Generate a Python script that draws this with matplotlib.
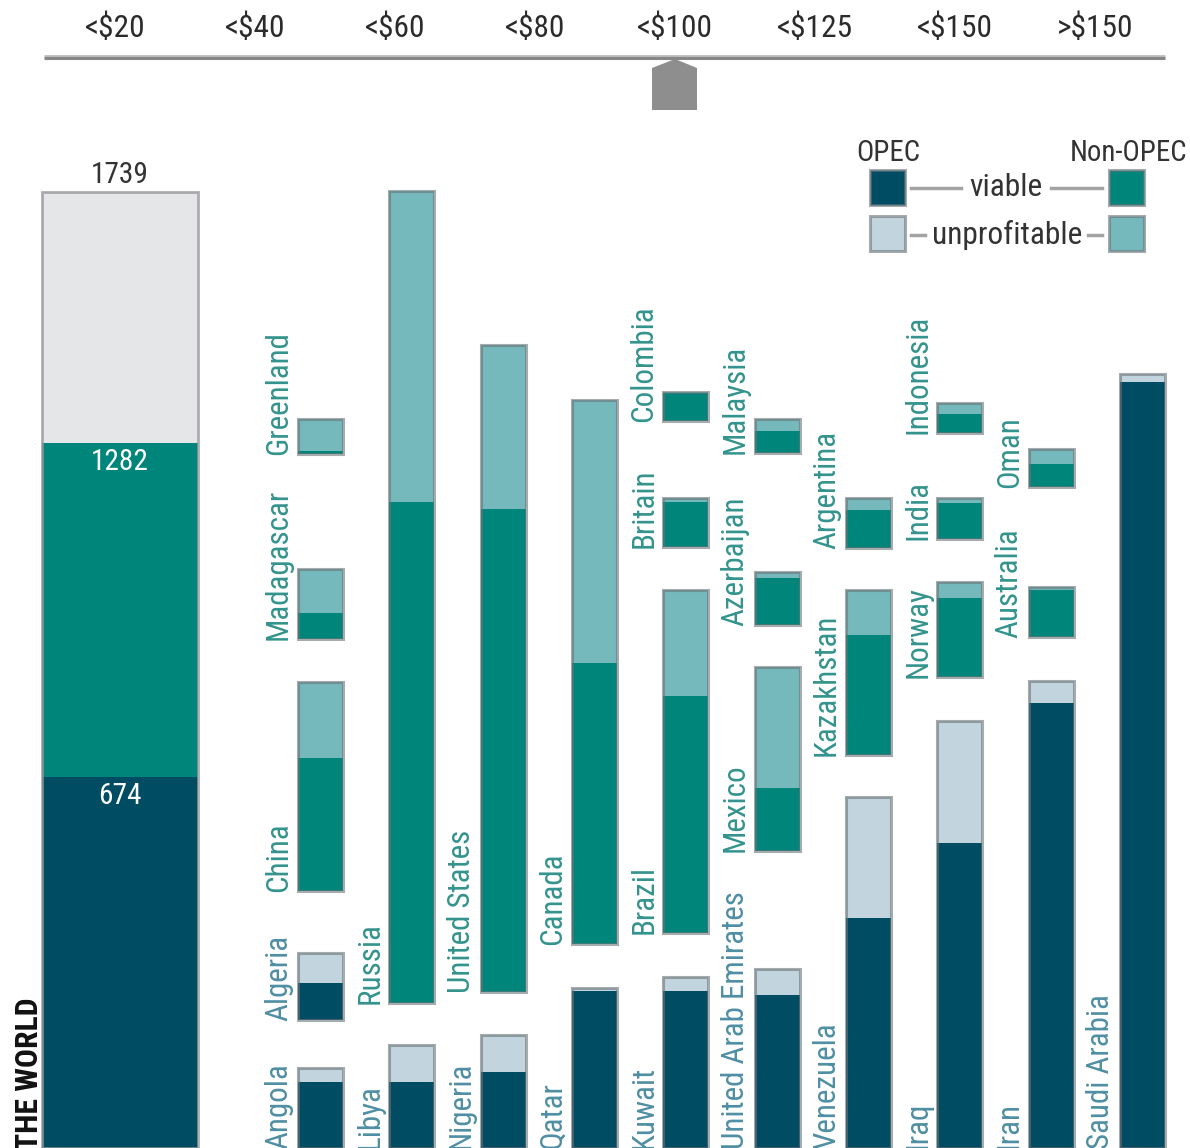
import matplotlib
matplotlib.use("Agg")
import matplotlib.pyplot as plt
from matplotlib.patches import Polygon, Rectangle
from matplotlib import font_manager

# oil reserves by break-even price, billion barrels
price_bands = ["<$20", "<$40", "<$60", "<$80", "<$100", "<$125", "<$150", ">$150"]

world_parts = [674, 608, 457]          # OPEC viable, non-OPEC viable, unprofitable
world_marks = [674, 1282, 1739]

countries = ["Greenland", "Madagascar", "China", "Algeria", "Angola",
             "Russia", "Libya",
             "United States", "Nigeria",
             "Canada", "Qatar",
             "Colombia", "Britain", "Brazil", "Kuwait",
             "Malaysia", "Azerbaijan", "Mexico", "United Arab Emirates",
             "Argentina", "Kazakhstan", "Venezuela",
             "Indonesia", "India", "Norway", "Iraq",
             "Oman", "Australia", "Iran",
             "Saudi Arabia"]
opec = [0, 0, 0, 1, 1,
        0, 1,
        0, 1,
        0, 1,
        0, 0, 0, 1,
        0, 0, 0, 1,
        0, 0, 1,
        0, 0, 0, 1,
        0, 0, 1,
        1]
viable = [5, 48, 242, 67, 120,
          911, 120,
          878, 138,
          511, 285,
          51, 82, 431, 285,
          40, 85, 115, 278,
          69, 218, 418,
          35, 66, 144, 555,
          42, 86, 809,
          1393]
unprofitable = [58, 80, 138, 55, 25,
                565, 67,
                298, 67,
                478, 6,
                2, 7, 193, 26,
                21, 11, 220, 47,
                22, 82, 220,
                20, 9, 29, 221,
                27, 5, 40,
                14]

# layout of the floating bars: column and bottom of each country's bar
column = [1, 1, 1, 1, 1, 2, 2, 3, 3, 4, 4, 5, 5, 5, 5, 6, 6, 6, 6,
          7, 7, 7, 8, 8, 8, 8, 9, 9, 9, 10]
bottom = [1262, 925, 467, 233, 0, 264, 0, 284, 0, 371, 0, 1322, 1093, 391, 0,
          1264, 951, 540, 0, 1091, 715, 0, 1300, 1107, 856, 0, 1202, 929, 0, 0]

OPEC_DARK = "#004c63"
OPEC_LIGHT = "#c2d5de"
NON_DARK = "#00857a"
NON_LIGHT = "#75b9bd"
WORLD_TOP = "#e5e6e8"
EDGE = (0.42, 0.45, 0.47, 0.6)

# pick a narrow face if one is installed, otherwise Roboto
fonts = font_manager.fontManager.ttflist
names = {f.name for f in fonts}
family, stretch = ("Roboto" if "Roboto" in names else "DejaVu Sans"), "normal"
for pref in ["Liberation Sans Narrow", "Roboto Condensed", "Open Sans", "Noto Sans", "DejaVu Sans"]:
    hit = [f for f in fonts if f.name == pref and f.style == "normal"
           and f.stretch in ("condensed", "semi-condensed", "extra-condensed")]
    if hit:
        family, stretch = pref, hit[0].stretch
        break
plt.rcParams["font.family"] = [family, "DejaVu Sans"]
plt.rcParams["font.stretch"] = stretch

fig = plt.figure(figsize=(11.9, 11.48), dpi=100)
renderer = fig.canvas.get_renderer()


def fit(txt, target_px, **kw):
    t = fig.text(0, 0, txt, fontsize=10, **kw)
    w = t.get_window_extent(renderer=renderer).width
    t.remove()
    return 10 * target_px / w


label_fs = fit("Greenland", 124)
price_fs = fit("<$100", 75)
num_fs = fit("1739", 58)
legend_fs = fit("unprofitable", 150)
head_fs = fit("Non-OPEC", 118)
world_fs = fit("THE WORLD", 152, fontweight="bold")

# main chart: x in column units, y in billion barrels
ax = fig.add_axes([0, 0, 1, 1])
ax.set_xlim(-2.51, 10.52)
ax.set_ylim(0, 1148 / 0.55)
ax.axis("off")

bw = 0.493
for i, name in enumerate(countries):
    x = column[i]
    dark = OPEC_DARK if opec[i] else NON_DARK
    light = OPEC_LIGHT if opec[i] else NON_LIGHT
    ax.bar(x, viable[i], bw, bottom=bottom[i], color=dark, linewidth=0, zorder=2)
    ax.bar(x, unprofitable[i], bw, bottom=bottom[i] + viable[i], color=light,
           linewidth=0, zorder=2)
    ax.bar(x, viable[i] + unprofitable[i], bw, bottom=bottom[i], fill=False,
           edgecolor=EDGE, linewidth=2.2, zorder=3)
    ax.annotate(name, xy=(x - bw / 2, bottom[i]), xytext=(-5, -1),
                textcoords="offset pixels", rotation=90, ha="right", va="bottom",
                fontsize=label_fs, color="#4f8ea3" if opec[i] else "#34938d")

# the world bar
wx, ww = -1.196, 1.70
world_colors = [OPEC_DARK, NON_DARK, WORLD_TOP]
acc = 0
for val, c in zip(world_parts, world_colors):
    ax.bar(wx, val, ww, bottom=acc, color=c, linewidth=0, zorder=2)
    acc += val
ax.bar(wx, sum(world_parts), ww, bottom=0, fill=False, edgecolor=(0.6, 0.6, 0.62, 0.8),
       linewidth=2, zorder=3)
ax.annotate(str(world_marks[2]), xy=(wx, world_marks[2]), xytext=(0, 3),
            textcoords="offset pixels", ha="center", va="bottom", fontsize=num_fs,
            color="#333333")
for m in world_marks[:2]:
    ax.annotate(str(m), xy=(wx, m), xytext=(0, -5), textcoords="offset pixels",
                ha="center", va="top", fontsize=num_fs, color="white")

# header and legend, drawn in pixel space
hx = fig.add_axes([0, 0, 1, 1], facecolor="none")
hx.set_xlim(0, 1190)
hx.set_ylim(1148, 0)
hx.axis("off")

hx.text(29, 1150, "THE WORLD", rotation=90, ha="center", va="bottom",
        fontsize=world_fs, fontweight="bold", color="#111111")

for k, lab in enumerate(price_bands):
    hx.text(115 + 140 * k, 28, lab, ha="center", va="center", fontsize=price_fs,
            color="#2b2b2b")
hx.plot([44, 1165], [55.5, 55.5], color="#bcbcbc", linewidth=2, solid_capstyle="butt")
hx.plot([44, 1165], [58, 58], color="#878787", linewidth=2.2, solid_capstyle="butt")
hx.add_patch(Polygon([(652, 110), (652, 68), (675, 59), (697, 68), (697, 110)],
                     closed=True, facecolor="#8e8e8e", edgecolor="none"))

hx.text(888, 153, "OPEC", ha="center", va="center", fontsize=head_fs, color="#333333")
hx.text(1129, 153, "Non-OPEC", ha="center", va="center", fontsize=head_fs, color="#333333")
for (x0, y0, c) in [(870, 170, OPEC_DARK), (1109, 170, NON_DARK),
                    (870, 216, OPEC_LIGHT), (1109, 216, NON_LIGHT)]:
    hx.add_patch(Rectangle((x0, y0), 35, 35, facecolor=c, edgecolor=EDGE, linewidth=2.2))
hx.plot([911, 961], [188, 188], color="#a3a3a3", linewidth=2.5)
hx.plot([1051, 1102], [188, 188], color="#a3a3a3", linewidth=2.5)
hx.text(1006, 188, "viable", ha="center", va="center", fontsize=legend_fs, color="#333333")
hx.plot([911, 925], [235, 235], color="#a3a3a3", linewidth=2.5)
hx.plot([1088, 1102], [235, 235], color="#a3a3a3", linewidth=2.5)
hx.text(1007, 235, "unprofitable", ha="center", va="center", fontsize=legend_fs,
        color="#333333")

fig.savefig("out.png", dpi=100)
